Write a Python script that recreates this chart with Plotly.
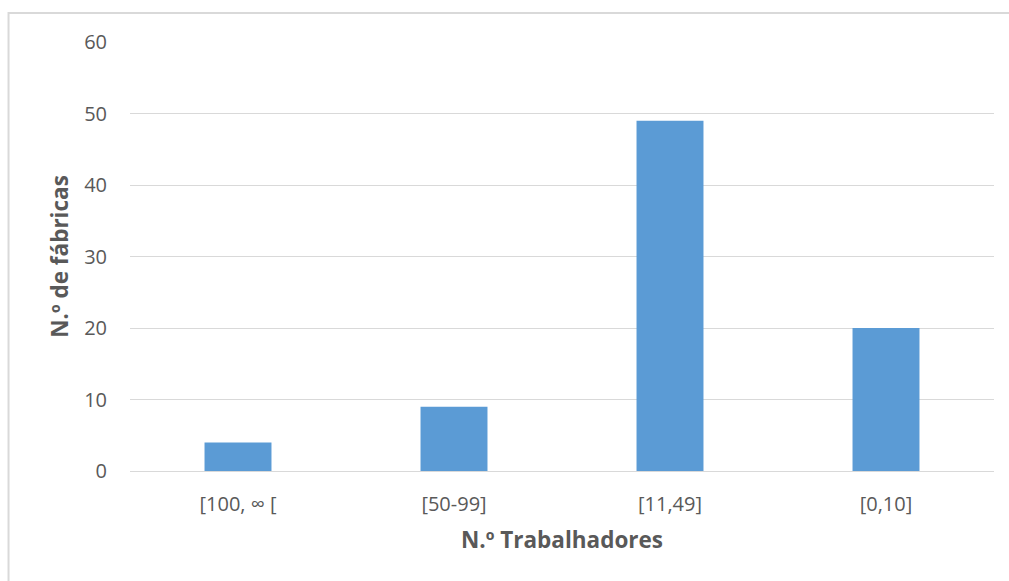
import plotly.graph_objects as go

# Number of factories by workforce size class
categorias = ["[100, ∞ [", "[50-99]", "[11,49]", "[0,10]"]
num_fabricas = [4, 9, 49, 20]
y_ticks = [0, 10, 20, 30, 40, 50, 60]

FONT = "'Open Sans', sans-serif"
TXT = "#595959"
GRID = "#d9d9d9"

fig = go.Figure(
    go.Bar(
        x=categorias,
        y=num_fabricas,
        marker=dict(color="#5B9BD5", line=dict(width=0)),
        width=0.31,
    )
)

fig.update_layout(
    width=1009,
    height=581,
    margin=dict(l=130, r=15, t=42, b=110),
    paper_bgcolor="white",
    plot_bgcolor="white",
    showlegend=False,
    font=dict(family=FONT, color=TXT, size=20),
    shapes=[
        dict(
            type="rect", xref="paper", yref="paper",
            x0=-0.1406, x1=1.2, y0=-0.4, y1=1.0676,
            line=dict(color=GRID, width=2), fillcolor="rgba(0,0,0,0)",
            layer="below",
        )
    ],
)

fig.update_xaxes(
    showgrid=False,
    showline=True,
    linecolor=GRID,
    linewidth=1,
    ticks="",
    tickfont=dict(size=20, color=TXT, family=FONT),
    ticklabelstandoff=15,
    title=dict(
        text="<b>N.º Trabalhadores</b>",
        font=dict(size=22.5, color=TXT, family=FONT),
        standoff=16,
    ),
)

fig.update_yaxes(
    range=[0, 60],
    tickvals=y_ticks,
    showgrid=True,
    gridcolor=GRID,
    gridwidth=1,
    zeroline=False,
    showline=False,
    ticks="",
    tickfont=dict(size=20, color=TXT, family=FONT),
    ticklabelstandoff=22,
    title=dict(
        text="<b>N.º de fábricas</b>",
        font=dict(size=22.5, color=TXT, family=FONT),
        standoff=9,
    ),
)

fig.write_html("out.html")
